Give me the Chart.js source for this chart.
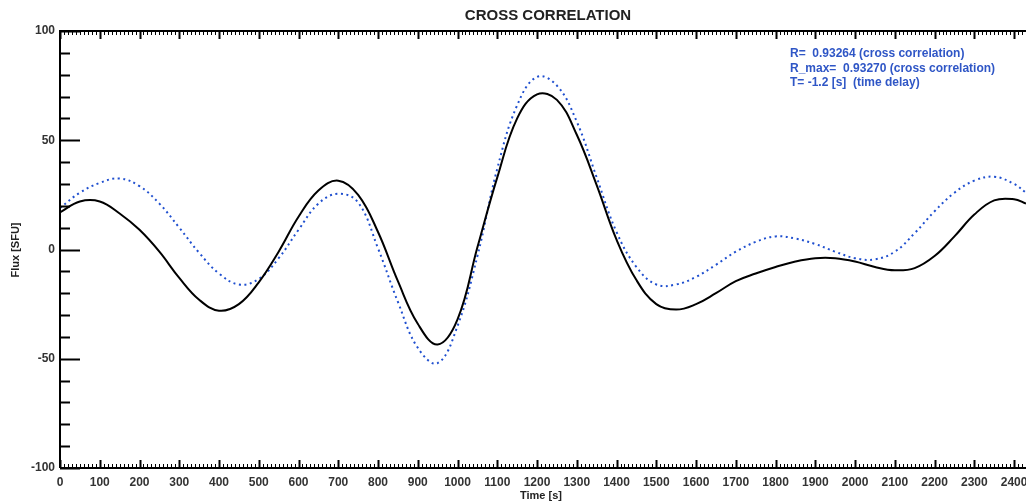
<!DOCTYPE html>
<html>
<head>
<meta charset="utf-8">
<title>Cross correlation</title>
<script src="https://cdn.jsdelivr.net/npm/chart.js@4.4.1/dist/chart.umd.min.js"></script>
<style>
  html, body { margin: 0; padding: 0; background: #fff; }
  #wrap { width: 1026px; height: 504px; }
</style>
</head>
<body>
<div id="wrap"><canvas id="ccChart" width="1026" height="504"></canvas></div>
<script>
// time axis [s]
const times = [0, 50, 100, 150, 200, 250, 300, 350, 400, 450, 500, 550, 600, 650, 700, 750, 800, 850, 900, 950,
  1000, 1050, 1100, 1150, 1200, 1250, 1300, 1350, 1400, 1450, 1500, 1550, 1600, 1650, 1700, 1750, 1800, 1850, 1900, 1950,
  2000, 2050, 2100, 2150, 2200, 2250, 2300, 2350, 2400, 2430];

// solid black curve
const fluxA = [17, 22, 22, 16.5, 9, -1, -13, -23, -28, -25, -15, -1, 15, 27, 31.5, 25, 8, -14.5, -34, -43.5,
  -32, 1, 33, 60, 71, 68.5, 52.5, 29.5, 4.5, -14, -25, -27.5, -25, -20, -14.5, -11, -8, -5.5, -4, -4,
  -5.5, -8, -9.5, -8.5, -3, 6, 16, 22.5, 23, 21];

// dotted blue curve (shifted by time delay)
const fluxB = [19, 26, 30.5, 32.5, 29, 21, 10, -1.5, -11, -16, -13.5, -4, 9, 21, 25.5, 21.5, 0.5, -24, -45, -52,
  -35, -3, 37, 66, 79, 75, 58.5, 33, 8, -8, -16, -16, -12.5, -7, -1, 3.5, 6, 5, 2.5, -1,
  -4, -4.5, -1, 7.5, 17.5, 26, 31.5, 33.3, 30, 26];

const yTicks = [-100, -50, 0, 50, 100];
const xTickStep = 100;

const infoLines = [
  'R=  0.93264 (cross correlation)',
  'R_max=  0.93270 (cross correlation)',
  'T= -1.2 [s]  (time delay)'
];

const FONT = '"Liberation Sans", Arial, Helvetica, sans-serif';

// marcos del gráfico, ticks hacia dentro y textos
const framePlugin = {
  id: 'framePlugin',
  afterDraw(chart) {
    const { ctx, chartArea: a, scales: { x, y } } = chart;
    ctx.save();
    ctx.strokeStyle = '#000';

    ctx.lineWidth = 2;
    ctx.beginPath();
    ctx.moveTo(a.left, a.bottom);
    ctx.lineTo(a.left, a.top);
    ctx.lineTo(a.right, a.top);
    ctx.moveTo(a.left, a.bottom);
    ctx.lineTo(a.right, a.bottom);
    ctx.stroke();

    // x ticks (bottom + top)
    for (let t = 0; t <= x.max; t += 10) {
      const major = t % xTickStep === 0;
      const len = major ? 8 : 4;
      const px = Math.round(x.getPixelForValue(t)) + 0.5;
      ctx.lineWidth = major ? 2 : 1;
      ctx.beginPath();
      ctx.moveTo(px, a.bottom);
      ctx.lineTo(px, a.bottom - len);
      ctx.moveTo(px, a.top);
      ctx.lineTo(px, a.top + len);
      ctx.stroke();
    }

    // y ticks (left)
    for (let v = y.min; v <= y.max; v += 10) {
      const major = v % 50 === 0;
      const py = Math.round(y.getPixelForValue(v)) + 0.5;
      ctx.lineWidth = 2;
      ctx.beginPath();
      ctx.moveTo(a.left, py);
      ctx.lineTo(a.left + (major ? 20 : 10), py);
      ctx.stroke();
    }

    // título
    ctx.fillStyle = '#222';
    ctx.textAlign = 'center';
    ctx.textBaseline = 'middle';
    ctx.font = 'bold 15px ' + FONT;
    ctx.fillText('CROSS CORRELATION', 548, 16);

    // etiquetas de ejes
    ctx.font = 'bold 11px ' + FONT;
    ctx.fillText('Time [s]', 541, 496);
    ctx.save();
    ctx.translate(16, 250);
    ctx.rotate(-Math.PI / 2);
    ctx.fillText('Flux [SFU]', 0, 0);
    ctx.restore();

    // info
    ctx.fillStyle = '#2f56c6';
    ctx.textAlign = 'left';
    ctx.font = 'bold 12px ' + FONT;
    infoLines.forEach((line, i) => ctx.fillText(line, 790, 54 + i * 14.5));

    ctx.restore();
  }
};

const toPoints = (vals) => vals.map((v, i) => ({ x: times[i], y: v }));

new Chart(document.getElementById('ccChart'), {
  type: 'line',
  data: {
    datasets: [
      {
        label: 'flux',
        data: toPoints(fluxA),
        borderColor: '#000',
        borderWidth: 2,
        pointRadius: 0,
        tension: 0.4
      },
      {
        label: 'flux shifted',
        data: toPoints(fluxB),
        borderColor: '#1f4fcf',
        borderWidth: 2,
        borderDash: [2, 3.5],
        pointRadius: 0,
        tension: 0.4
      }
    ]
  },
  options: {
    responsive: false,
    animation: false,
    layout: { padding: { top: 31, left: 0, right: 0, bottom: 0 } },
    plugins: {
      legend: { display: false },
      tooltip: { enabled: false }
    },
    scales: {
      x: {
        type: 'linear',
        min: 0,
        max: 2430,
        border: { display: false },
        grid: { display: false, drawTicks: false },
        ticks: {
          stepSize: xTickStep,
          includeBounds: false,
          autoSkip: false,
          maxRotation: 0,
          padding: 7,
          color: '#333',
          font: { family: FONT, size: 12, weight: 'bold' },
          callback: (v) => String(v)
        },
        afterFit(scale) {
          scale.height = 36;
          scale.paddingLeft = 0;
          scale.paddingRight = 0;
        }
      },
      y: {
        min: -100,
        max: 100,
        border: { display: false },
        grid: { display: false, drawTicks: false },
        afterBuildTicks(scale) {
          scale.ticks = yTicks.map(v => ({ value: v }));
        },
        ticks: {
          padding: 5,
          color: '#333',
          font: { family: FONT, size: 12, weight: 'bold' },
          callback: (v) => String(v)
        },
        afterFit(scale) {
          scale.width = 60;
          scale.paddingTop = 0;
          scale.paddingBottom = 0;
        }
      }
    }
  },
  plugins: [framePlugin]
});
</script>
</body>
</html>
